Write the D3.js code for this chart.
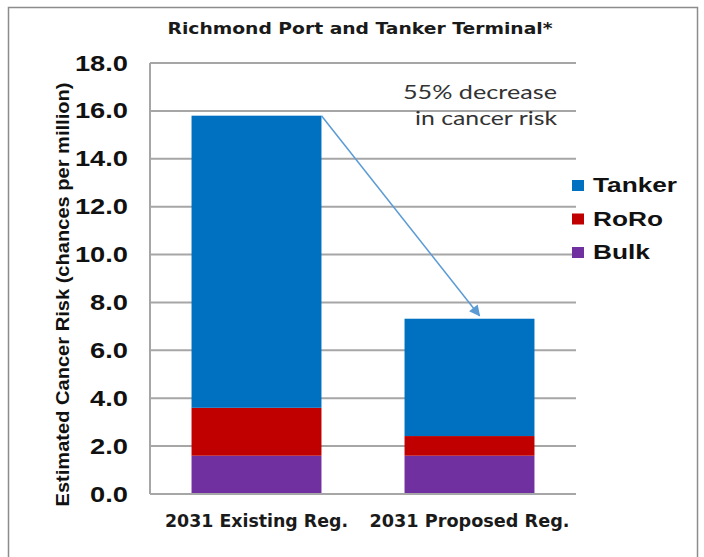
<!DOCTYPE html>
<html>
<head>
<meta charset="utf-8">
<script src="https://cdn.jsdelivr.net/npm/d3@7"></script>
<style>
  body { margin: 0; background: #fff; }
  svg { display: block; }
  .axis text { font-family: Arial, "Liberation Sans", sans-serif; font-weight: bold; }
</style>
</head>
<body>
<svg id="chart" width="704" height="557"></svg>
<script>
let categories = ['2031 Existing Reg.', '2031 Proposed Reg.'];
let seriesNames = ['Bulk', 'RoRo', 'Tanker'];
let bulk = [1.6, 1.6];
let roro = [2.0, 0.82];
let tanker = [12.2, 4.9];
let yTicks = [0, 2, 4, 6, 8, 10, 12, 14, 16, 18];
let legendOrder = ['Tanker', 'RoRo', 'Bulk'];
let colors = {Tanker: '#0070c0', RoRo: '#c00000', Bulk: '#7030a0'};

let svg = d3.select('#chart');
let margin = {top: 63, left: 150, right: 128, bottom: 63};
let width = 704 - margin.left - margin.right,
  height = 557 - margin.top - margin.bottom;
let stretch = 1.24;  // the picture's text is wider than plain Arial

// outer frame
svg.append('rect')
  .attr('x', 8.5).attr('y', 7.5)
  .attr('width', 689).attr('height', 600)
  .attr('fill', 'none')
  .attr('stroke', '#8c8c8c')
  .attr('stroke-width', 1.5);

let rows = categories.map((c, i) => ({cat: c, Bulk: bulk[i], RoRo: roro[i], Tanker: tanker[i]}));
let stacked = d3.stack().keys(seriesNames)(rows);

let sx = d3.scaleBand().domain(categories).range([0, width]).paddingInner(0.39).paddingOuter(0.195);
let sy = d3.scaleLinear().domain([0, 18]).range([height, 0]);

let g = svg.append('g').attr('transform', `translate(${margin.left},${margin.top})`);

// gridlines
g.append('g').selectAll('line')
  .data(yTicks)
  .join('line')
    .attr('x1', 0).attr('x2', width)
    .attr('y1', d => sy(d)).attr('y2', d => sy(d))
    .attr('stroke', '#a6a6a6')
    .attr('stroke-width', 2);

// bars
g.append('g').selectAll('g')
  .data(stacked)
  .join('g')
    .attr('fill', d => colors[d.key])
  .selectAll('rect')
  .data(d => d)
  .join('rect')
    .attr('x', d => sx(d.data.cat))
    .attr('y', d => sy(d[1]))
    .attr('width', sx.bandwidth())
    .attr('height', d => sy(d[0]) - sy(d[1]));

// axes lines
g.append('line')
  .attr('x1', 0).attr('x2', 0).attr('y1', 0).attr('y2', height)
  .attr('stroke', '#a6a6a6').attr('stroke-width', 2);
g.append('line')
  .attr('x1', 0).attr('x2', width).attr('y1', height).attr('y2', height)
  .attr('stroke', '#a6a6a6').attr('stroke-width', 2);

let yAxis = d3.axisLeft(sy).tickValues(yTicks).tickFormat(d3.format('.1f')).tickSize(0).tickPadding(22);
g.append('g').attr('class', 'axis')
  .call(yAxis)
  .call(s => s.select('.domain').remove())
  .selectAll('text')
    .style('font-size', '22px')
    .attr('fill', '#111')
    .attr('x', -22 / stretch)
    .attr('transform', `scale(${stretch},1)`);

let xAxis = d3.axisBottom(sx).tickSize(0).tickPadding(21);
let xLens = [183, 200];
g.append('g').attr('class', 'axis')
  .attr('transform', `translate(0,${height})`)
  .call(xAxis)
  .call(s => s.select('.domain').remove())
  .selectAll('text')
    .style('font-family', '"DejaVu Sans", sans-serif')
    .style('font-size', '17px')
    .style('font-weight', 'bold')
    .attr('fill', '#1a1a1a')
    .attr('textLength', (d, i) => xLens[i])
    .attr('lengthAdjust', 'spacingAndGlyphs');

// y label
svg.append('text')
  .attr('transform', `translate(69,${margin.top + height / 2 + 16}) rotate(-90)`)
  .attr('text-anchor', 'middle')
  .style('font-family', 'Arial, "Liberation Sans", sans-serif')
  .style('font-weight', 'bold')
  .style('font-size', '18px')
  .attr('fill', '#111')
  .attr('textLength', 424)
  .attr('lengthAdjust', 'spacingAndGlyphs')
  .text('Estimated Cancer Risk (chances per million)');

// title
svg.append('text')
  .attr('x', 360).attr('y', 34)
  .attr('text-anchor', 'middle')
  .style('font-family', '"DejaVu Sans", sans-serif')
  .style('font-weight', 'bold')
  .style('font-size', '16px')
  .attr('fill', '#1a1a1a')
  .attr('textLength', 385)
  .attr('lengthAdjust', 'spacingAndGlyphs')
  .text('Richmond Port and Tanker Terminal*');

// annotation
let note = svg.append('text')
  .attr('text-anchor', 'end')
  .style('font-family', 'Lato, "Noto Sans", sans-serif')
  .style('font-size', '20px')
  .attr('fill', '#333');
note.append('tspan').attr('x', 557).attr('y', 99)
  .attr('textLength', 154).attr('lengthAdjust', 'spacingAndGlyphs')
  .text('55% decrease');
note.append('tspan').attr('x', 557).attr('y', 125)
  .attr('textLength', 142).attr('lengthAdjust', 'spacingAndGlyphs')
  .text('in cancer risk');

// arrow from top of first bar to top of second bar
let defs = svg.append('defs');
defs.append('marker')
  .attr('id', 'ah')
  .attr('viewBox', '0 0 10 10')
  .attr('refX', 9).attr('refY', 5)
  .attr('markerWidth', 12).attr('markerHeight', 11)
  .attr('markerUnits', 'userSpaceOnUse')
  .attr('orient', 'auto')
  .append('path')
    .attr('d', 'M0,0 L10,5 L0,10 z')
    .attr('fill', '#5b9bd5');

let top1 = stacked[2][0][1], top2 = stacked[2][1][1];
g.append('line')
  .attr('x1', sx(categories[0]) + sx.bandwidth())
  .attr('y1', sy(top1))
  .attr('x2', sx(categories[1]) + sx.bandwidth() * 0.577)
  .attr('y2', sy(top2) - 3)
  .attr('stroke', '#5b9bd5')
  .attr('stroke-width', 1.5)
  .attr('marker-end', 'url(#ah)');

// legend
let legLens = {Tanker: 84, RoRo: 70, Bulk: 57};
let lg = svg.append('g').attr('transform', 'translate(572,180)');
let items = lg.selectAll('g')
  .data(legendOrder)
  .join('g')
    .attr('transform', (d, i) => `translate(0,${i * 33.5})`);
items.append('rect')
  .attr('width', 12).attr('height', 11)
  .attr('fill', d => colors[d]);
items.append('text')
  .attr('x', 21).attr('y', 12)
  .style('font-family', 'Arial, "Liberation Sans", sans-serif')
  .style('font-weight', 'bold')
  .style('font-size', '21px')
  .attr('fill', '#111')
  .attr('textLength', d => legLens[d])
  .attr('lengthAdjust', 'spacingAndGlyphs')
  .text(d => d);
</script>
</body>
</html>
